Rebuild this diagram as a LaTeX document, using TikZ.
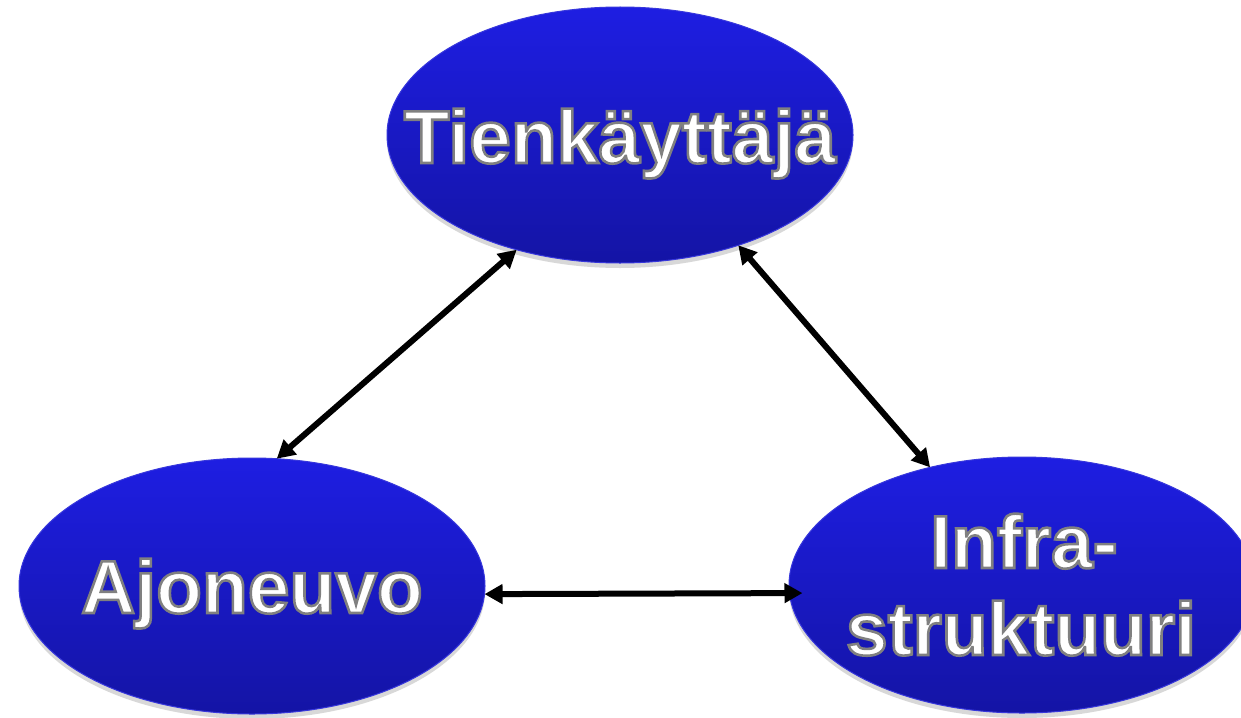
\documentclass[tikz,border=0pt]{standalone}
\usepackage{fontspec}
\setmainfont{Liberation Sans}
\usetikzlibrary{shapes.geometric,arrows.meta,shadows}
\definecolor{elltop}{RGB}{30,30,226}
\definecolor{ellbot}{RGB}{20,20,165}
\definecolor{ellline}{RGB}{55,55,220}
\newcommand{\outlinedtext}[1]{\special{pdf:literal direct 2 Tr 2.6 w 0.5 G}#1\special{pdf:literal direct 0 Tr}}
\begin{document}
\begin{tikzpicture}[x=1pt,y=-1pt,
  oval/.style={ellipse, minimum width=466pt, minimum height=256pt, inner sep=0pt, outer sep=0pt,
    top color=elltop, bottom color=ellbot, draw=ellline, line width=1pt,
    drop shadow={shadow xshift=0pt, shadow yshift=-5pt, opacity=0.3}},
  lbl/.style={anchor=base, inner sep=0pt, text=white, font=\fontsize{75}{90}\selectfont\bfseries},
  link/.style={{Triangle[length=18pt,width=19pt]}-{Triangle[length=18pt,width=19pt]}, line width=6pt, black}]
\clip (0,0) rectangle (1241,717);
\fill[white] (0,0) rectangle (1241,717);
\node[oval] (tk) at (620,135) {};
\node[oval] (av) at (252,586) {};
\node[oval] (ir) at (1022,585) {};
\node[lbl] (tkt) at (620,163) {\outlinedtext{Tienkäyttäjä}};
\node[lbl] (avt) at (252,613) {\outlinedtext{Ajoneuvo}};
\node[lbl] (irt1) at (1024,568) {\outlinedtext{Infra-}};
\node[lbl] (irt2) at (1021,655) {\outlinedtext{struktuuri}};
\draw[link] (tk.-132.6) -- (av.79);
\draw[link] (tk.-43) -- (ir.128.8);
\draw[link, shorten >=-13pt] (av.-2) -- (ir.182);
\end{tikzpicture}
\end{document}
